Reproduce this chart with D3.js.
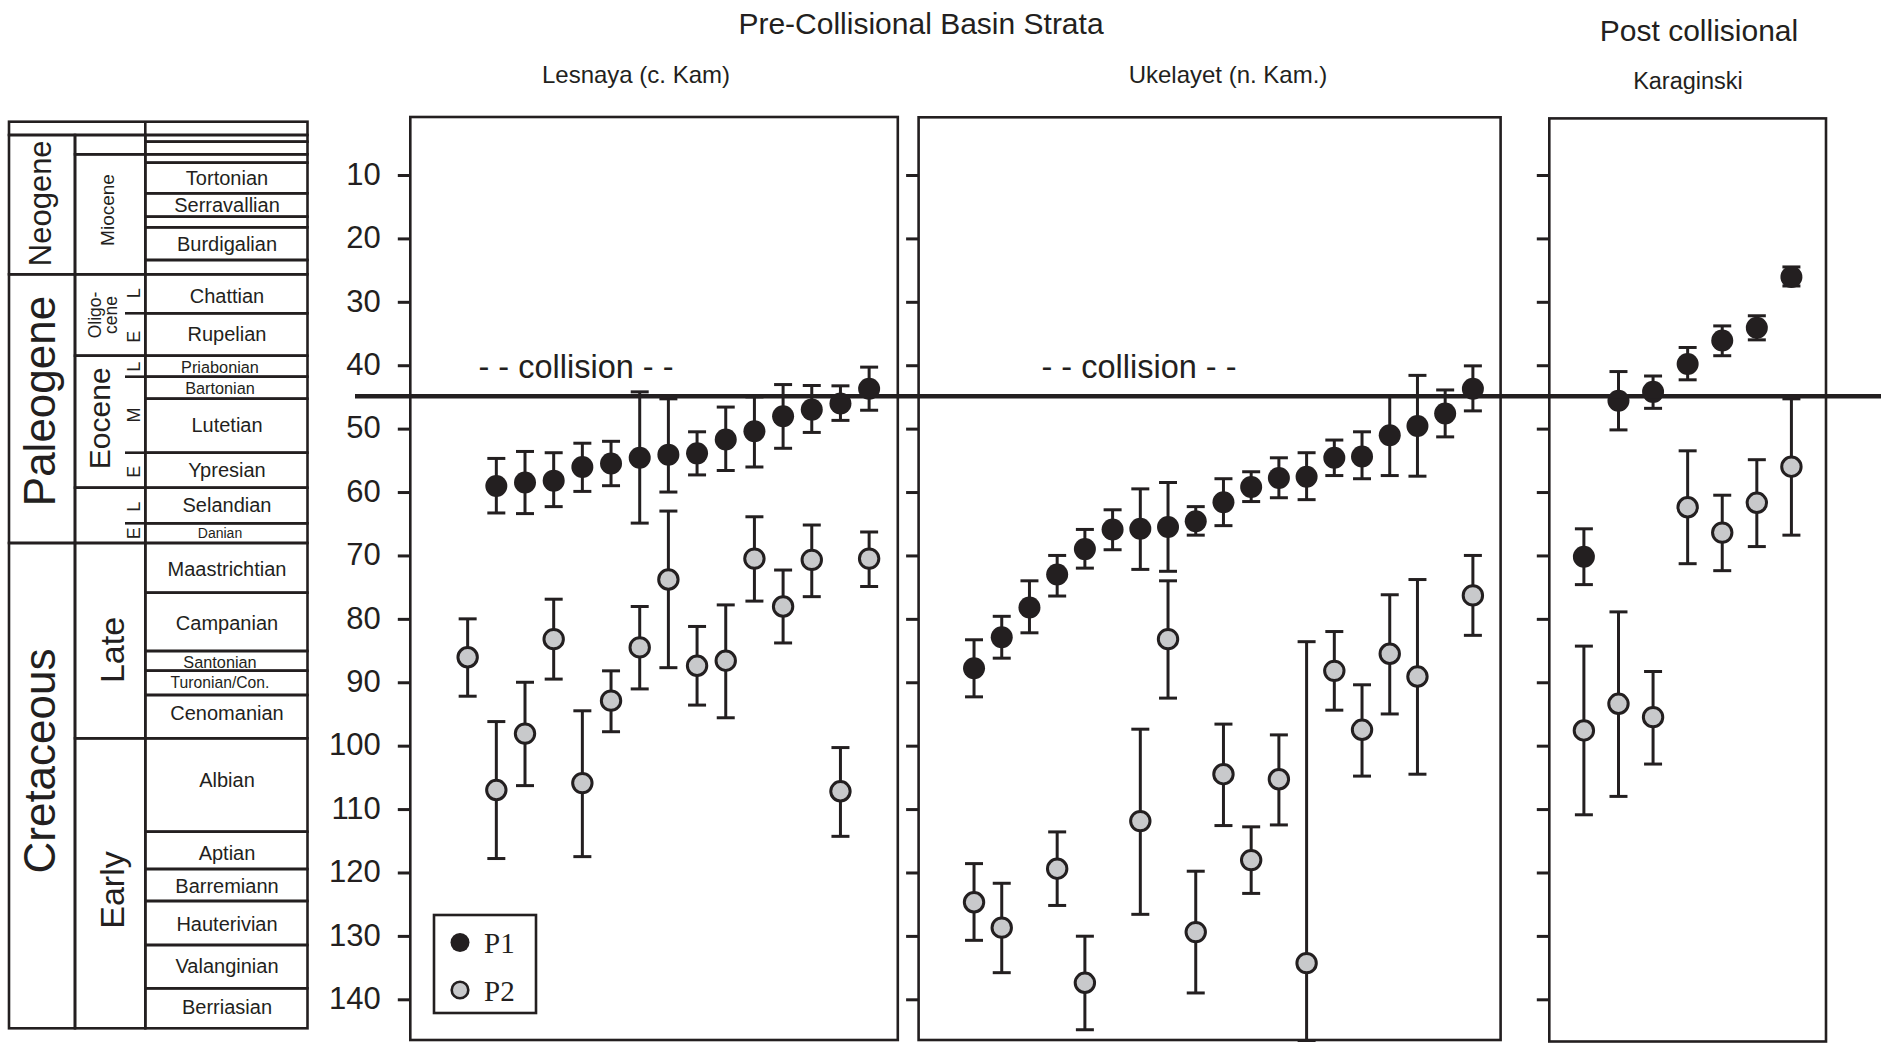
<!DOCTYPE html>
<html><head><meta charset="utf-8">
<script src="https://cdn.jsdelivr.net/npm/d3@7"></script>
<style>html,body{margin:0;padding:0;background:#fff;} svg{display:block;}</style>
</head><body><svg id="chart" width="1881" height="1045"></svg>
<script>
// ---------------- DATA ----------------
const ageTicks = [10, 20, 30, 40, 50, 60, 70, 80, 90, 100, 110, 120, 130, 140];
const collisionAge = 44.9;

// Lesnaya (c. Kam)
const lesP1Idx = [1, 2, 3, 4, 5, 6, 7, 8, 9, 10, 11, 12, 13, 14];
const lesP1Age = [59.05, 58.5, 58.2, 56.05, 55.5, 54.6, 54.1, 53.9, 51.7, 50.4, 48.05, 47.0, 46.05, 43.7];
const lesP1Min = [54.7, 53.6, 53.8, 52.3, 52.0, 44.2, 45.3, 50.5, 46.6, 45.0, 43.05, 43.2, 43.25, 40.3];
const lesP1Max = [63.3, 63.4, 62.3, 59.9, 59.0, 64.9, 60.0, 57.3, 56.6, 56.05, 53.1, 50.6, 48.7, 47.1];
const lesP2Idx = [0, 1, 2, 3, 4, 5, 6, 7, 8, 9, 10, 11, 12, 13, 14];
const lesP2Age = [86.05, 107.0, 98.1, 83.2, 105.9, 92.9, 84.5, 73.8, 87.4, 86.6, 70.5, 78.05, 70.7, 107.2, 70.5];
const lesP2Min = [80.0, 96.2, 90.0, 76.9, 94.5, 88.2, 78.05, 63.0, 81.2, 77.8, 63.9, 72.3, 65.2, 100.3, 66.3];
const lesP2Max = [92.2, 117.8, 106.3, 89.5, 117.5, 97.8, 91.05, 87.7, 93.6, 95.6, 77.2, 83.8, 76.5, 114.3, 74.9];

// Ukelayet (n. Kam.)
const ukeP1Idx = [0, 1, 2, 3, 4, 5, 6, 7, 8, 9, 10, 11, 12, 13, 14, 15, 16, 17, 18];
const ukeP1Age = [87.8, 82.9, 78.2, 73.0, 69.0, 65.9, 65.8, 65.5, 64.6, 61.6, 59.2, 57.8, 57.6, 54.6, 54.4, 51.05, 49.6, 47.6, 43.7];
const ukeP1Min = [83.3, 79.6, 74.0, 70.0, 65.9, 62.8, 59.5, 58.5, 62.3, 57.9, 56.8, 54.6, 53.8, 51.8, 50.5, 44.9, 41.6, 43.9, 40.1];
const ukeP1Max = [92.3, 86.2, 82.2, 76.4, 72.0, 69.1, 72.2, 72.5, 66.8, 65.3, 61.5, 60.9, 61.2, 57.4, 57.9, 57.4, 57.5, 51.3, 47.2];
const ukeP2Idx = [0, 1, 3, 4, 6, 7, 8, 9, 10, 11, 12, 13, 14, 15, 16, 18];
const ukeP2Age = [124.7, 128.7, 119.4, 137.4, 111.9, 83.2, 129.4, 104.5, 118.05, 105.3, 134.3, 88.2, 97.5, 85.5, 89.1, 76.3];
const ukeP2Min = [118.6, 121.7, 113.6, 130.05, 97.4, 74.0, 119.8, 96.6, 112.8, 98.3, 83.6, 82.0, 90.4, 76.2, 73.8, 70.0];
const ukeP2Max = [130.7, 135.8, 125.2, 144.8, 126.6, 92.5, 139.0, 112.6, 123.3, 112.5, 146.5, 94.4, 104.8, 95.0, 104.5, 82.6];

// Karaginski
const karP1Idx = [0, 1, 2, 3, 4, 5, 6];
const karP1Age = [70.2, 45.6, 44.2, 39.8, 36.1, 34.1, 26.1];
const karP1Min = [65.8, 41.0, 41.7, 37.2, 33.8, 32.2, 24.5];
const karP1Max = [74.6, 50.2, 46.8, 42.3, 38.5, 36.0, 27.5];
const karP2Idx = [0, 1, 2, 3, 4, 5, 6];
const karP2Age = [97.6, 93.4, 95.5, 62.4, 66.4, 61.7, 56.0];
const karP2Min = [84.3, 78.9, 88.3, 53.5, 60.5, 54.9, 45.3];
const karP2Max = [110.9, 108.0, 102.9, 71.3, 72.4, 68.6, 66.8];

// Stratigraphic column
const periodNames = ["Neogene", "Paleogene", "Cretaceous"];
const epochNames = ["", "Miocene", "Oligo-|cene", "Eocene", "", "Late", "Early"];
const subEpochLetters = ["L", "E", "L", "M", "E", "L", "E"];
const stageNames = ["", "", "", "Tortonian", "Serravallian", "", "Burdigalian", "", "Chattian", "Rupelian",
  "Priabonian", "Bartonian", "Lutetian", "Ypresian", "Selandian", "Danian", "Maastrichtian", "Campanian",
  "Santonian", "Turonian/Con.", "Cenomanian", "Albian", "Aptian", "Barremiann", "Hauterivian", "Valanginian", "Berriasian"];

// ---------------- LAYOUT ----------------
const ink = "#231f20", grey = "#c8c9cb";
const sans = "'Liberation Sans', Arial, Helvetica, sans-serif";
const serif = "'Liberation Serif', 'Times New Roman', serif";
const svg = d3.select("#chart");
const y = d3.scaleLinear().domain([10, 140]).range([175, 999.3]);

const panels = [
  {x0: 410.3, x1: 897.8, top: 117, bottom: 1040, xd: [-2, 15], labels: true, collision: 576,
   p1: [lesP1Idx, lesP1Age, lesP1Min, lesP1Max], p2: [lesP2Idx, lesP2Age, lesP2Min, lesP2Max]},
  {x0: 918.6, x1: 1500.6, top: 117.3, bottom: 1040, xd: [-2, 19], labels: false, collision: 1139,
   p1: [ukeP1Idx, ukeP1Age, ukeP1Min, ukeP1Max], p2: [ukeP2Idx, ukeP2Age, ukeP2Min, ukeP2Max]},
  {x0: 1549.3, x1: 1826, top: 118.4, bottom: 1041.5, xd: [-1, 7], labels: false, collision: null,
   p1: [karP1Idx, karP1Age, karP1Min, karP1Max], p2: [karP2Idx, karP2Age, karP2Min, karP2Max]}
];

// titles
function txt(x, yy, s, size, opts = {}) {
  return svg.append("text").attr("x", x).attr("y", yy).text(s)
    .attr("font-family", opts.family || sans).attr("font-size", size)
    .attr("fill", ink).attr("text-anchor", opts.anchor || "middle");
}
txt(921, 34, "Pre-Collisional Basin Strata", 30);
txt(636, 82.5, "Lesnaya (c. Kam)", 24);
txt(1228, 82.5, "Ukelayet (n. Kam.)", 24);
txt(1699, 40.5, "Post collisional", 30);
txt(1688, 89, "Karaginski", 23.5);

function drawSeries(g, x, data) {
  const [idx, age, mn, mx] = data;
  const pts = idx.map((d, i) => ({i: d, a: age[i], lo: mn[i], hi: mx[i]}));
  const bars = g.append("g").attr("stroke", ink).attr("stroke-width", 3).attr("fill", "none");
  bars.selectAll("line.v").data(pts).join("line").attr("class", "v")
    .attr("x1", d => x(d.i)).attr("x2", d => x(d.i)).attr("y1", d => y(d.lo)).attr("y2", d => y(d.hi));
  bars.selectAll("line.t").data(pts).join("line").attr("class", "t")
    .attr("x1", d => x(d.i) - 9).attr("x2", d => x(d.i) + 9).attr("y1", d => y(d.lo)).attr("y2", d => y(d.lo));
  bars.selectAll("line.b").data(pts).join("line").attr("class", "b")
    .attr("x1", d => x(d.i) - 9).attr("x2", d => x(d.i) + 9).attr("y1", d => y(d.hi)).attr("y2", d => y(d.hi));
  return pts;
}
function drawDots(g, x, pts, filled) {
  g.append("g").selectAll("circle").data(pts).join("circle")
    .attr("cx", d => x(d.i)).attr("cy", d => y(d.a))
    .attr("r", filled ? 11 : 9.7)
    .attr("fill", filled ? ink : grey)
    .attr("stroke", filled ? "none" : ink).attr("stroke-width", 3);
}

panels.forEach(p => {
  const x = d3.scaleLinear().domain(p.xd).range([p.x0, p.x1]);
  const g = svg.append("g");
  const ax = g.append("g").attr("transform", `translate(${p.x0},0)`)
    .call(d3.axisLeft(y).tickValues(ageTicks).tickSize(12.5).tickPadding(17)
      .tickFormat(p.labels ? d3.format("d") : ""));
  ax.select(".domain").remove();
  ax.selectAll(".tick line").attr("stroke", ink).attr("stroke-width", 3);
  ax.selectAll(".tick text").attr("fill", ink).attr("font-family", sans).attr("font-size", 31)
    .attr("dy", "0.3em");
  g.append("rect").attr("x", p.x0).attr("y", p.top).attr("width", p.x1 - p.x0).attr("height", p.bottom - p.top)
    .attr("fill", "none").attr("stroke", ink).attr("stroke-width", 2.6);
  const a = drawSeries(g, x, p.p2);
  const b = drawSeries(g, x, p.p1);
  drawDots(g, x, a, false);
  drawDots(g, x, b, true);
  if (p.collision) txt(p.collision, 378, "- - collision - -", 32.5);
});

// collision line
svg.append("line").attr("x1", 355).attr("x2", 1881).attr("y1", y(collisionAge)).attr("y2", y(collisionAge))
  .attr("stroke", ink).attr("stroke-width", 4.5);

// legend
const lg = svg.append("g");
lg.append("rect").attr("x", 434).attr("y", 915).attr("width", 102).attr("height", 98)
  .attr("fill", "#fff").attr("stroke", ink).attr("stroke-width", 2.6);
lg.append("circle").attr("cx", 460).attr("cy", 942.5).attr("r", 9.5).attr("fill", ink);
lg.append("circle").attr("cx", 460).attr("cy", 990).attr("r", 8.3).attr("fill", grey).attr("stroke", ink).attr("stroke-width", 2.6);
txt(484, 953, "P1", 29, {family: serif, anchor: "start"});
txt(484, 1000.5, "P2", 29, {family: serif, anchor: "start"});

// ---------------- STRATIGRAPHIC COLUMN ----------------
const colX = [9, 75, 145.3, 307.5];
const headTop = 121.7, headBot = 135;
const stageBounds = [135, 141.7, 154.3, 162.7, 193.3, 216.7, 227.3, 260, 274.3, 313.3, 355.7, 376.7, 398.7,
  452.7, 487.7, 523.3, 543, 592.7, 651, 670.7, 695, 738.3, 831.7, 869, 901, 945, 988.3, 1028.3];
const stageLabelY = [null, null, null, 177.7, 205, null, 243.3, null, 295.7, 333.3, 367.3, 388.3, 425, 470, 505, 532.7,
  568.3, 622.7, 661.7, 682.7, 712.3, 779.3, 852.3, 885.7, 923.3, 965.7, 1006.7];
const periodBounds = [135, 274.3, 543, 1028.3];
const epochBounds = [135, 154.3, 274.3, 355.7, 487.7, 543, 738.3, 1028.3];
const periodLabel = [{y: 203.3, size: 31}, {y: 401, size: 44}, {y: 761, size: 44}];
const epochLabel = [null, {x: 107.5, y: 210, size: 19}, {x: 103, y: 315, size: 17.5}, {x: 99.5, y: 418.3, size: 30},
  null, {x: 112, y: 650, size: 34}, {x: 112, y: 890, size: 34}];
const subEpochY = [293.3, 336.7, 366.7, 415, 471.7, 506.7, 533.3];
const subEpochTicks = [313.3, 376.7, 452.7, 523.3];
const smallStage = {"Priabonian": 16.3, "Bartonian": 16.3, "Santonian": 16.3, "Turonian/Con.": 15.7, "Danian": 14};
const lw = 2.6;
const col = svg.append("g").attr("fill", "none").attr("stroke", ink).attr("stroke-width", lw);
// header
col.append("rect").attr("x", colX[0]).attr("y", headTop).attr("width", colX[3] - colX[0]).attr("height", headBot - headTop);
col.append("line").attr("x1", colX[2]).attr("x2", colX[2]).attr("y1", headTop).attr("y2", headBot);
// cells
function cells(x0, x1, bounds) {
  for (let i = 0; i < bounds.length - 1; i++) {
    col.append("rect").attr("x", x0).attr("y", bounds[i]).attr("width", x1 - x0).attr("height", bounds[i + 1] - bounds[i]);
  }
}
cells(colX[0], colX[1], periodBounds);
cells(colX[1], colX[2], epochBounds);
cells(colX[2], colX[3], stageBounds);
subEpochTicks.forEach(v => col.append("line").attr("x1", 125).attr("x2", colX[2]).attr("y1", v).attr("y2", v));

function rotText(cx, cy, s, size) {
  return svg.append("text").attr("transform", `translate(${cx},${cy}) rotate(-90)`)
    .attr("text-anchor", "middle").attr("dy", "0.35em").attr("font-family", sans)
    .attr("font-size", size).attr("fill", ink).text(s);
}
periodNames.forEach((n, i) => rotText(40, periodLabel[i].y, n, periodLabel[i].size));
epochNames.forEach((n, i) => {
  const L = epochLabel[i];
  if (!L || !n) return;
  const parts = n.split("|");
  if (parts.length === 1) rotText(L.x, L.y, n, L.size);
  else {
    rotText(L.x - 8, L.y, parts[0], L.size);
    rotText(L.x + 8, L.y, parts[1], L.size);
  }
});
subEpochLetters.forEach((s, i) => rotText(134, subEpochY[i], s, 18));
stageNames.forEach((n, i) => {
  if (!n) return;
  const fs = smallStage[n] || 20;
  svg.append("text").attr("x", fs < 17 ? 220 : 227).attr("y", stageLabelY[i])
    .attr("dy", "0.36em").attr("text-anchor", "middle").attr("font-family", sans)
    .attr("font-size", fs).attr("fill", ink).text(n);
});
</script></body></html>
